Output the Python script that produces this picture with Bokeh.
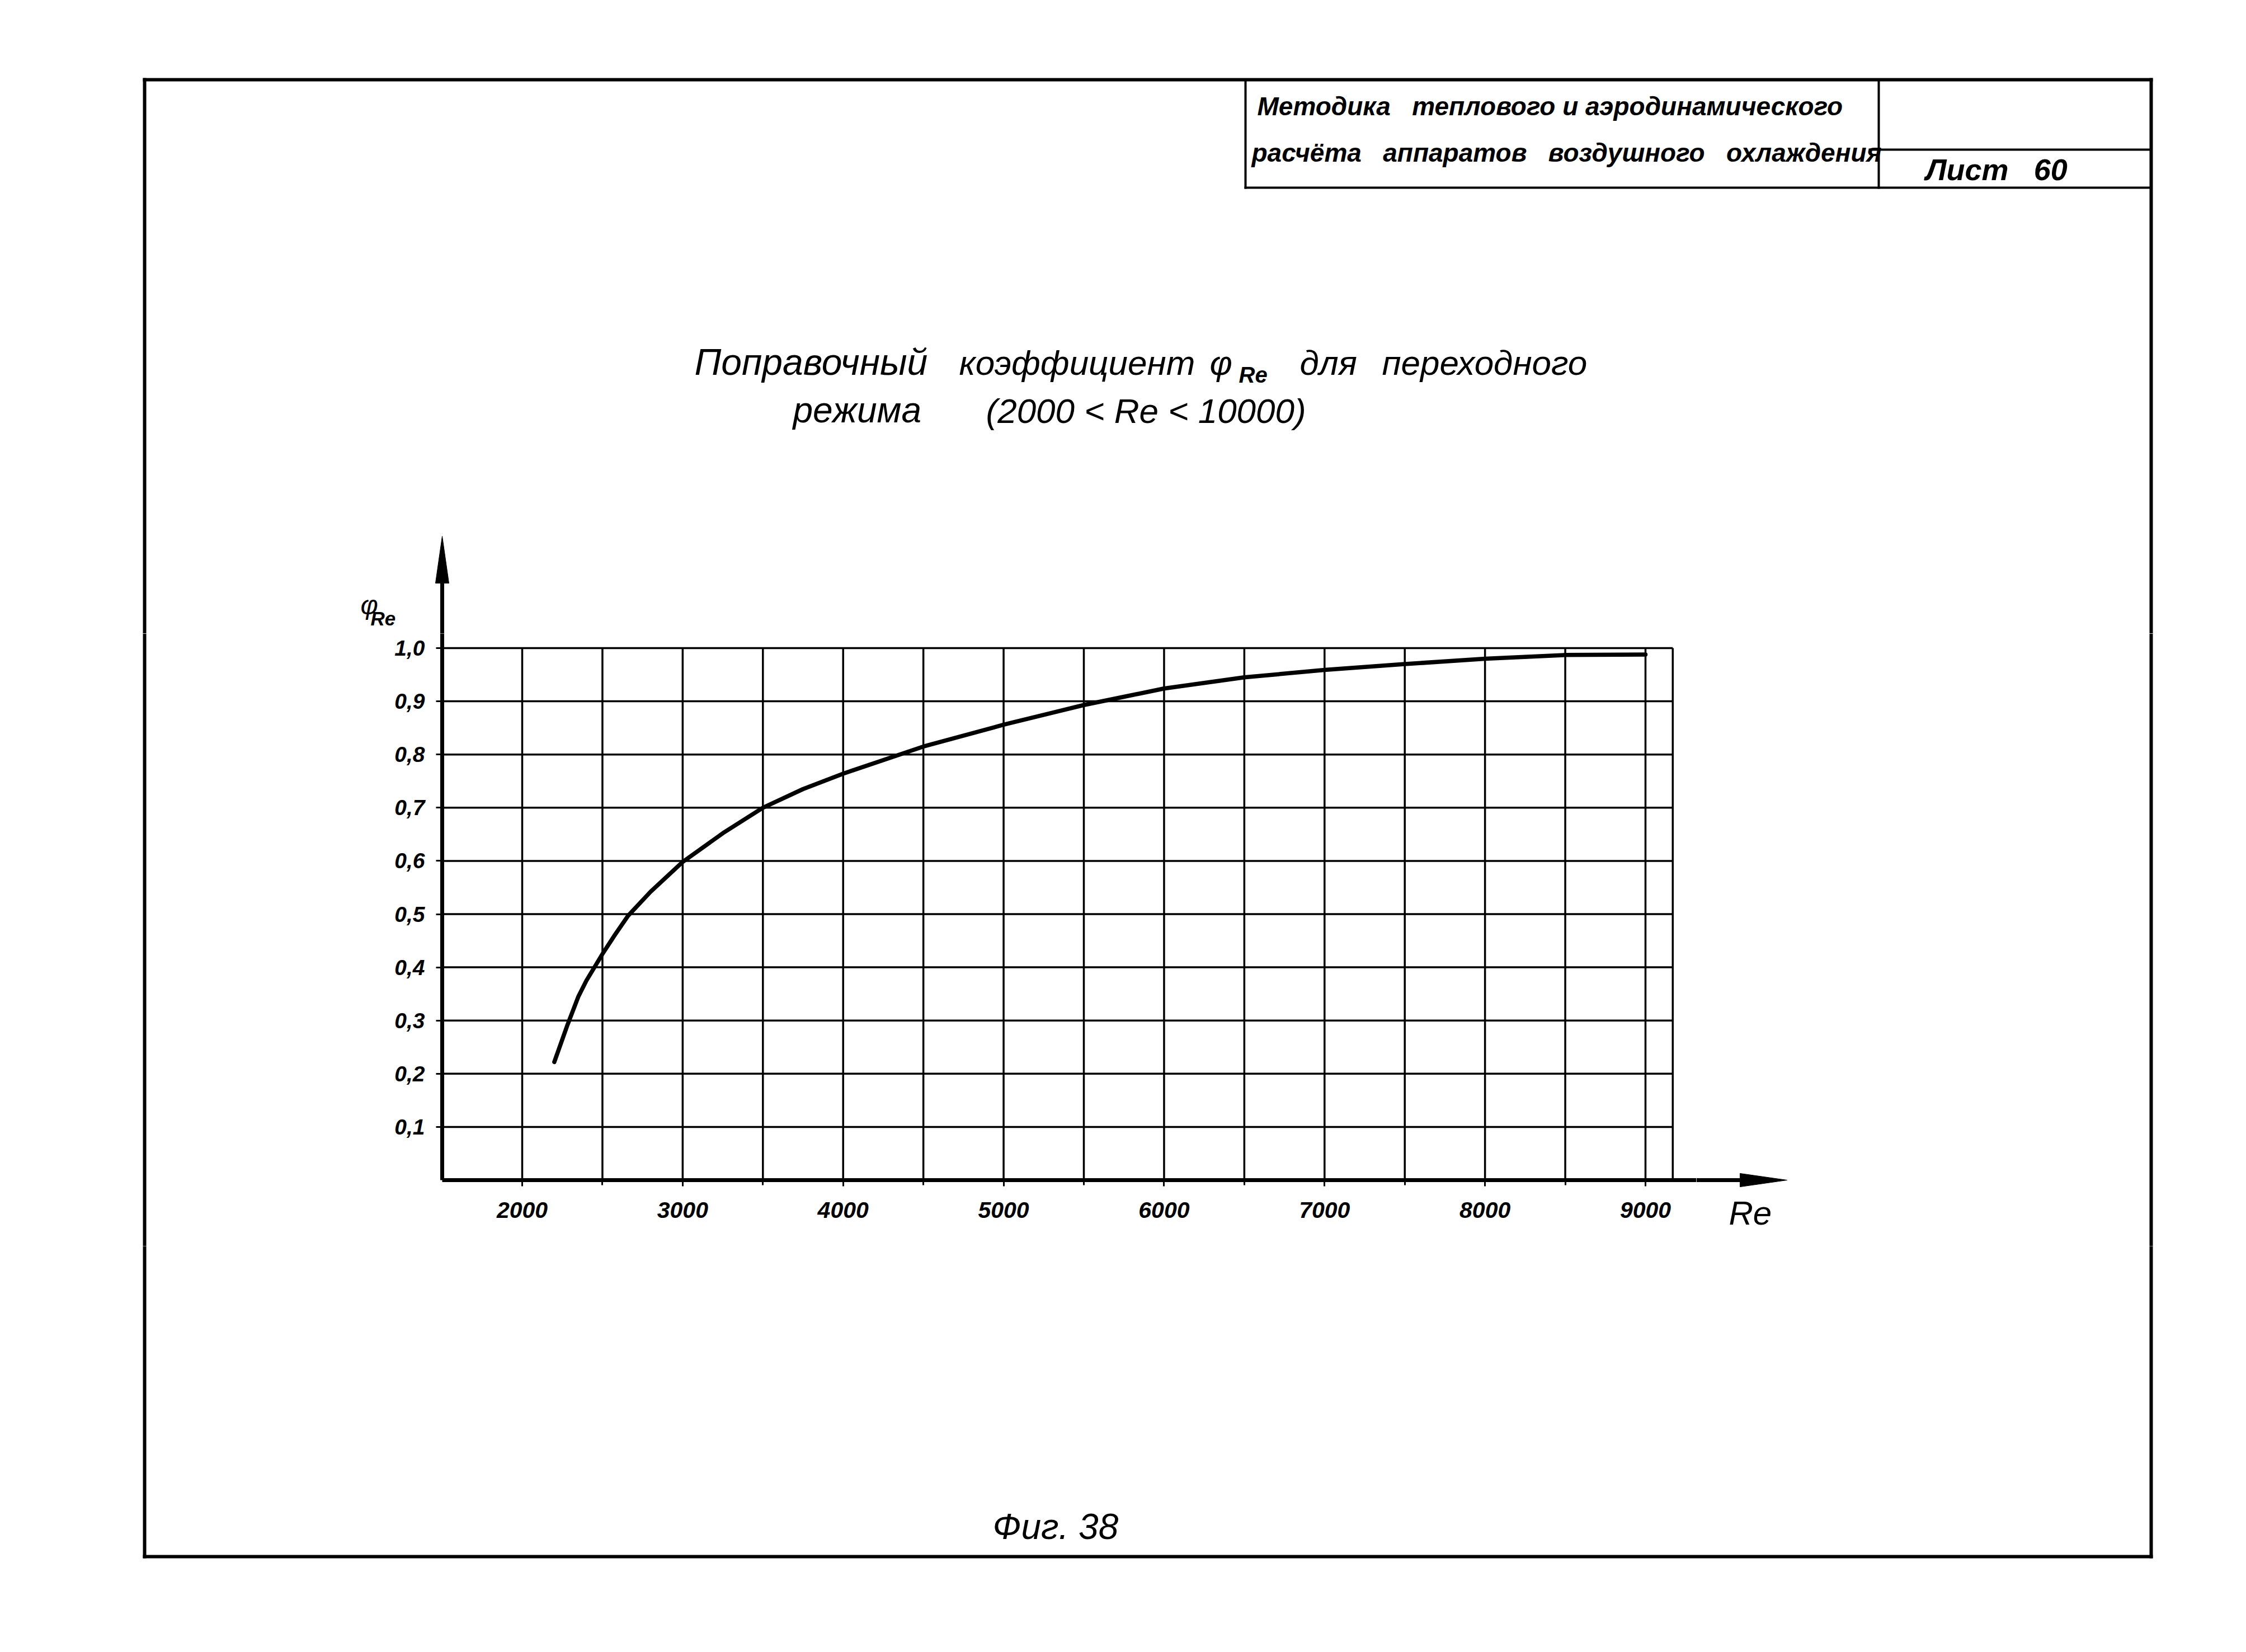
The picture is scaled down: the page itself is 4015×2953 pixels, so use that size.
from bokeh.plotting import figure
from bokeh.layouts import column, row
from bokeh.models import Range1d, FixedTicker, CustomJSTickFormatter, Label
from bokeh.embed import file_html
from bokeh.resources import INLINE

# ---------------- data ----------------
re_values = [2200, 2280, 2350, 2400, 2460, 2500, 2580, 2660, 2800, 3000, 3250, 3500,
             3750, 4000, 4500, 5000, 5500, 6000, 6500, 7000, 7500, 8000, 8500, 9000]
phi_values = [0.222, 0.290, 0.345, 0.375, 0.405, 0.425, 0.462, 0.497, 0.542, 0.598, 0.652, 0.700,
              0.735, 0.764, 0.815, 0.856, 0.893, 0.924, 0.945, 0.959, 0.970, 0.980, 0.987, 0.988]
x_tick_values = [2000, 3000, 4000, 5000, 6000, 7000, 8000, 9000]
x_minor_values = [2500, 3500, 4500, 5500, 6500, 7500, 8500]
y_tick_values = [0.1, 0.2, 0.3, 0.4, 0.5, 0.6, 0.7, 0.8, 0.9, 1.0]
grid_x_values = [2000, 2500, 3000, 3500, 4000, 4500, 5000, 5500, 6000, 6500,
                 7000, 7500, 8000, 8500, 9000, 9170]
grid_y_top = 1.0
grid_x_right = 9170

FONT = "Liberation Sans"
NB = "\u00a0"

# ---------------- page geometry (reference pixels) ----------------
W, H = 3999, 2937
P0 = 8                                # page margin
PX_RE0, RE0 = 941.0, 2000.0           # page x of Re = 2000
PX_PER_RE = (2949.0 - 941.0) / 7000.0
PY_PHI0 = 2117.0                      # page y of phi = 0
PX_PER_PHI = 951.0
AXIS_X = 798                          # page x of the phi axis


def X(px):
    return RE0 + (px - PX_RE0) / PX_PER_RE


def Y(py):
    return (PY_PHI0 - py) / PX_PER_PHI


CL, CR, CT, CB = 680, 3040, 1140, 2235      # chart canvas on the page
BL, BR, BT, BB = 266, 3853, 150, 2790       # drawing frame


def deco(x0, x1, y0, y1):
    f = figure(width=int(x1 - x0), height=int(y1 - y0), output_backend="svg",
               toolbar_location=None, x_range=Range1d(x0, x1), y_range=Range1d(y1, y0),
               x_axis_type=None, y_axis_type=None, min_border=0,
               min_border_left=0, min_border_right=0, min_border_top=0, min_border_bottom=0)
    f.outline_line_color = None
    f.background_fill_color = "white"
    f.border_fill_color = "white"
    f.frame_align = False
    return f


def label(f, text, px, baseline, size, style="italic"):
    # the label anchor lands near the middle of the capitals; shift it up from the baseline
    f.add_layout(Label(x=px, y=baseline - 0.36 * size, text=text, text_font=FONT,
                       text_font_size=f"{size}px", text_font_style=style,
                       text_color="black", text_baseline="alphabetic", text_align="left"))


# ---------------- chart ----------------
p = figure(width=CR - CL, height=CB - CT, output_backend="svg", toolbar_location=None,
           x_range=Range1d(X(AXIS_X), X(CR)), y_range=Range1d(0, Y(CT)),
           min_border_left=AXIS_X - CL, min_border_right=0, min_border_top=0,
           min_border_bottom=int(CB - PY_PHI0))
p.frame_align = False
p.outline_line_color = None
p.background_fill_color = "white"
p.border_fill_color = "white"
p.xgrid.visible = False
p.ygrid.visible = False

p.segment(x0=grid_x_values, y0=[0] * len(grid_x_values), x1=grid_x_values,
          y1=[grid_y_top] * len(grid_x_values), line_color="black", line_width=3.5)
p.segment(x0=[X(AXIS_X)] * len(y_tick_values), y0=y_tick_values,
          x1=[grid_x_right] * len(y_tick_values), y1=y_tick_values,
          line_color="black", line_width=3.5)

p.line(re_values, phi_values, line_color="black", line_width=7.5,
       line_cap="round", line_join="round")

xa = p.xaxis[0]
xa.ticker = FixedTicker(ticks=x_tick_values, minor_ticks=x_minor_values)
ya = p.yaxis[0]
ya.ticker = FixedTicker(ticks=y_tick_values)
ya.formatter = CustomJSTickFormatter(code="return tick.toFixed(1).replace('.', ',')")
for ax in (xa, ya):
    ax.axis_line_width = 7
    ax.axis_line_color = "black"
    ax.major_tick_line_width = 3
    ax.major_tick_line_color = "black"
    ax.major_tick_in = 0
    ax.major_tick_out = 11
    ax.minor_tick_line_width = 3
    ax.minor_tick_line_color = "black"
    ax.minor_tick_in = 0
    ax.major_label_text_font = FONT
    ax.major_label_text_font_style = "bold italic"
    ax.major_label_text_color = "black"
xa.minor_tick_out = 9
ya.minor_tick_out = 0
xa.major_label_text_font_size = "41px"
ya.major_label_text_font_size = "39px"
xa.major_label_standoff = 28
ya.major_label_standoff = 20

# ---------------- top band: frame top, title block, title, phi label, arrow ----------------
top = deco(P0, P0 + W, P0, CT)
top.segment(x0=[BL, BL, BR, 2234, 2234, 3366, 3350],
            y0=[BT, BT, BT, BT, 343, BT, 275],
            x1=[BR, BL, BR, 2234, BR, 3366, BR],
            y1=[BT, CT, CT, 343, 343, 343, 275],
            line_color="black", line_width=[6, 6, 6, 4, 4, 4, 4], line_cap="square")
top.segment(x0=[AXIS_X], y0=[CT], x1=[AXIS_X], y1=[1040], line_color="black", line_width=7)
top.patch([AXIS_X - 12, AXIS_X, AXIS_X + 12], [1050, 966, 1050], color="black")

label(top, f"Методика{NB}{NB} теплового и аэродинамического", 2255, 214, 46, "bold italic")
label(top, f"расчёта{NB}{NB} аппаратов{NB}{NB} воздушного{NB}{NB} охлаждения", 2245, 297, 46,
      "bold italic")
label(top, f"Лист{NB}{NB} 60", 3450, 330, 54, "bold italic")

label(top, "Поправочный", 1249, 678, 66)
label(top, "коэффициент", 1722, 678, 62)
label(top, "φ", 2170, 678, 62)
label(top, "Re", 2222, 692, 40, "bold italic")
label(top, "для", 2331, 678, 62)
label(top, "переходного", 2478, 678, 62)
label(top, "режима", 1425, 764, 64)
label(top, "(2000 < Re < 10000)", 1770, 764, 62)

label(top, "φ", 652, 1106, 48)
label(top, "Re", 670, 1126, 35, "bold italic")

# ---------------- left / right bands ----------------
left = deco(P0, CL, CT, CB)
left.segment(x0=[BL], y0=[CT], x1=[BL], y1=[CB], line_color="black", line_width=6)

right = deco(CR, P0 + W, CT, CB)
right.segment(x0=[BR], y0=[CT], x1=[BR], y1=[CB], line_color="black", line_width=6)
right.segment(x0=[CR], y0=[PY_PHI0], x1=[3130], y1=[PY_PHI0], line_color="black", line_width=7)
right.patch([3118, 3202, 3118], [PY_PHI0 - 12, PY_PHI0, PY_PHI0 + 12], color="black")
label(right, "Re", 3098, 2198, 60)

# ---------------- bottom band ----------------
bottom = deco(P0, P0 + W, CB, P0 + H)
bottom.segment(x0=[BL, BR, BL], y0=[CB, CB, BB], x1=[BL, BR, BR], y1=[BB, BB, BB],
               line_color="black", line_width=6, line_cap="square")
label(bottom, "Фиг. 38", 1782, 2760, 64)

layout = column(top, row(left, p, right, spacing=0), bottom, spacing=0)

open("out.html", "w").write(file_html(layout, INLINE))
